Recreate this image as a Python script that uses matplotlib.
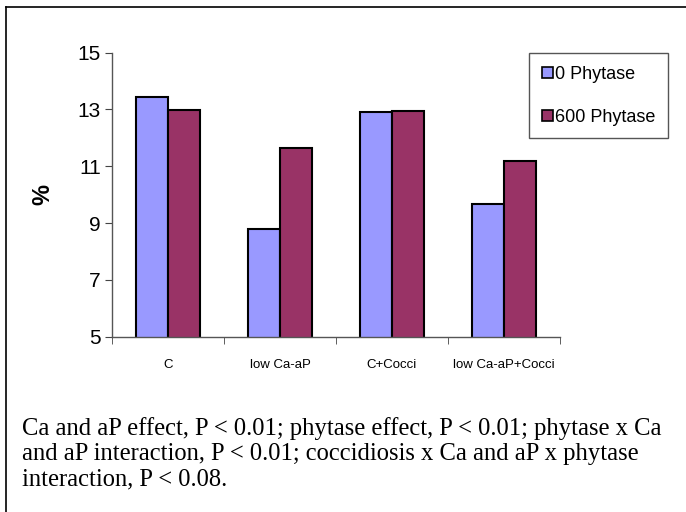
import numpy as np
import matplotlib.pyplot as plt
from matplotlib.lines import Line2D

# data
categories = ['C', 'low Ca-aP', 'C+Cocci', 'low Ca-aP+Cocci']
phytase_0 = [13.45, 8.78, 12.91, 9.66]
phytase_600 = [12.98, 11.63, 12.95, 11.19]
series_names = ['0 Phytase', '600 Phytase']
yticks = [5, 7, 9, 11, 13, 15]
caption = ('Ca and aP effect, P < 0.01; phytase effect, P < 0.01; phytase x Ca\n'
           'and aP interaction, P < 0.01; coccidiosis x Ca and aP x phytase\n'
           'interaction, P < 0.08.')

sans = ['Liberation Sans', 'DejaVu Sans']
serif = ['Liberation Serif', 'DejaVu Serif']

fig = plt.figure(figsize=(6.86, 5.12), dpi=100)
ax = fig.add_axes([112/686, 1-336.7/512, 448/686, 284/512])

x = np.arange(len(categories))
w = 0.29
ax.bar(x - w/2, phytase_0, w, color='#9999FF', edgecolor='black',
       linewidth=1.5, label=series_names[0])
ax.bar(x + w/2, phytase_600, w, color='#993366', edgecolor='black',
       linewidth=1.5, label=series_names[1])

ax.set_xlim(-0.5, len(categories) - 0.5)
ax.set_ylim(5, 15)
ax.set_yticks(yticks)
ax.set_yticklabels([str(t) for t in yticks], family=sans, fontsize=15)
ax.set_xticks(x)
ax.set_xticklabels(categories, family=sans, fontsize=9.5)
# category boundary ticks, like the original
ax.set_xticks(np.arange(len(categories) + 1) - 0.5, minor=True)
ax.tick_params(axis='x', which='major', length=0, pad=16)
ax.tick_params(axis='x', which='minor', length=5, direction='out', color='#444444')
ax.tick_params(axis='y', length=5, direction='out', color='#444444', pad=3)
for s in ['top', 'right']:
    ax.spines[s].set_visible(False)
for s in ['left', 'bottom']:
    ax.spines[s].set_color('#555555')
    ax.spines[s].set_linewidth(1)

ax.set_ylabel('%', family=sans, fontsize=17, fontweight='bold', labelpad=17)

leg = ax.legend(loc='upper right', bbox_to_anchor=(668/686, 1-53/512),
                bbox_transform=fig.transFigure, borderaxespad=0,
                prop={'family': sans, 'size': 13}, fancybox=False,
                edgecolor='#555555', framealpha=1, handlelength=0.6,
                handleheight=0.6, handletextpad=0.12, labelspacing=1.45,
                borderpad=0.7)
leg.get_frame().set_linewidth(1)
for p in leg.get_patches():
    p.set_linewidth(1.2)

fig.text(22/686, 1-417/512, caption, family=serif, fontsize=17.7,
         va='top', ha='left', linespacing=1.18)

# outer frame (left and top edges visible in the reference)
fig.add_artist(Line2D([5.5/686, 5.5/686], [0, 1-6.5/512], color='black',
                      linewidth=1.2, transform=fig.transFigure))
fig.add_artist(Line2D([5.5/686, 1], [1-6.5/512, 1-6.5/512], color='black',
                      linewidth=1.2, transform=fig.transFigure))

fig.savefig('out.png', dpi=100)
